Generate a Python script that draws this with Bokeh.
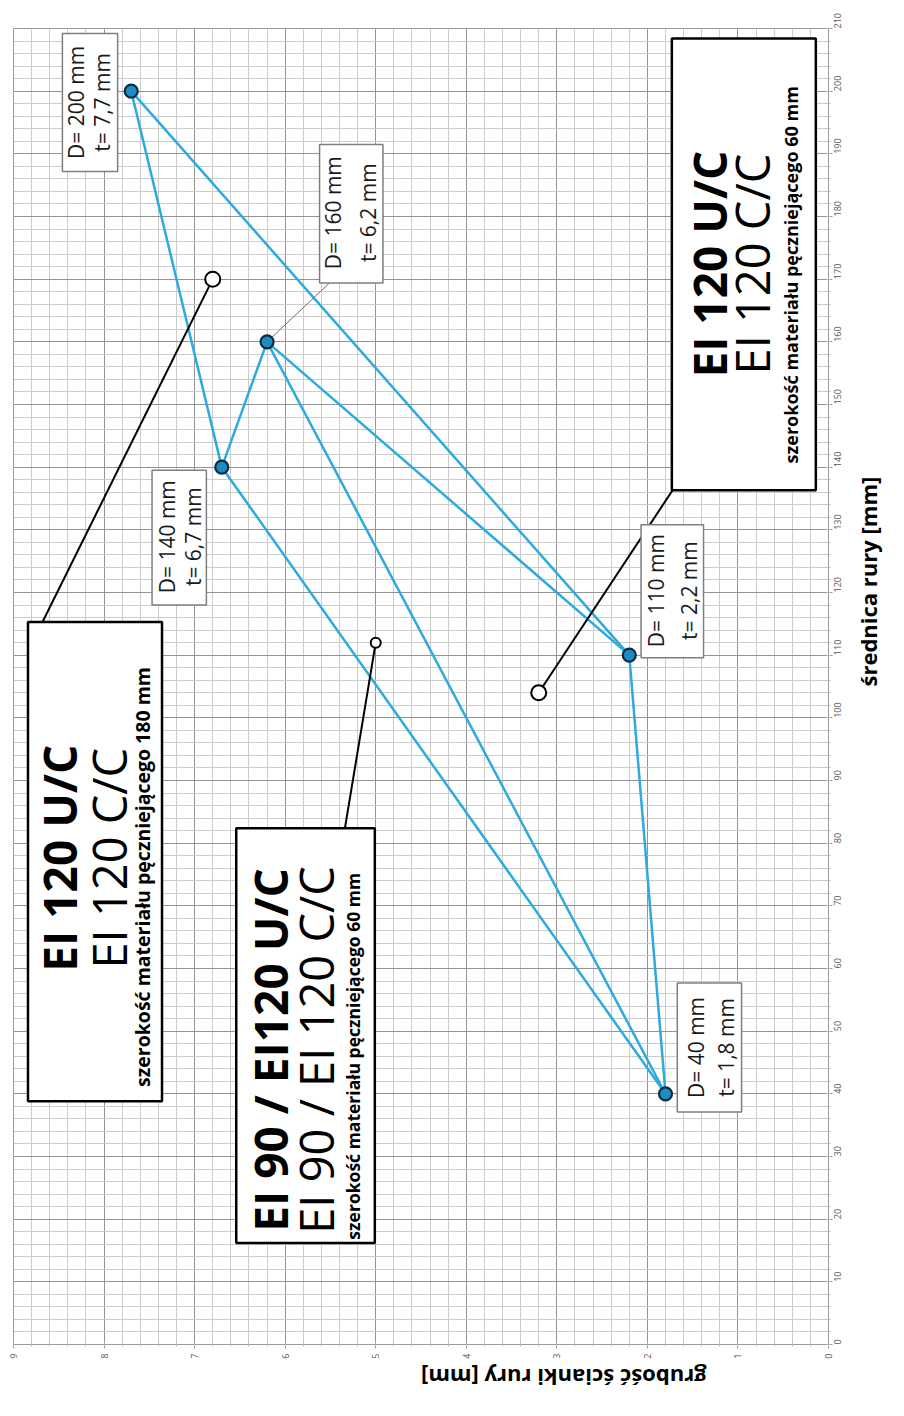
import math
from bokeh.plotting import figure
from bokeh.models import Range1d, SingleIntervalTicker
from bokeh.core.properties import value
from bokeh.embed import file_html
from bokeh.resources import INLINE

# ---------------- data ----------------
diameters = [40, 110, 140, 160, 200]          # D [mm]
thickness = [1.8, 2.2, 6.7, 6.2, 7.7]         # t [mm]
paths = [[40, 110, 200, 140, 40], [40, 160, 110], [140, 160]]   # connections by diameter

callout_anchor_d = [170, 112, 104]
callout_anchor_t = [6.8, 5.0, 3.2]
callout_line1 = ["EI 120 U/C", "EI 90 / EI120 U/C", "EI 120 U/C"]
callout_line2 = ["EI 120 C/C", "EI 90 / EI 120 C/C", "EI 120 C/C"]
callout_line3 = ["szerokość materiału pęczniejącego 180 mm",
                 "szerokość materiału pęczniejącego 60 mm",
                 "szerokość materiału pęczniejącego 60 mm"]

x_label = "grubość ścianki rury [mm]"
y_label = "średnica rury [mm]"

# ---------------- annotation layout (data units) ----------------
# callout boxes: (t_lo, t_hi, d_lo, d_hi)
callout_boxes = [(7.36, 8.84, 38.8, 115.3), (5.01, 6.54, 16.2, 82.4), (0.14, 1.73, 136.3, 208.4)]
callout_line_end = [(8.68, 115.3), (5.34, 82.4), (1.70, 136.8)]
callout_text_t = [(8.50, 7.95, 7.57), (6.17, 5.66, 5.25), (1.32, 0.85, 0.41)]
callout_text_d = [77.6, 47.0, 172.4]
callout_small_d = [74.6, 46.0, 170.7]
callout_small_size = ["19.5px", "17.5px", "18px"]
callout_marker_size = [15, 10, 15]

# point label boxes keyed by diameter
label_boxes = {40: (0.96, 1.67, 37.1, 57.7), 110: (1.38, 2.07, 109.6, 130.8),
               140: (6.87, 7.47, 118.0, 139.5), 160: (4.92, 5.62, 169.4, 191.5),
               200: (7.85, 8.46, 187.2, 209.2)}
label_text_t = {40: (1.46, 1.13), 110: (1.91, 1.54), 140: (7.31, 7.02),
                160: (5.47, 5.09), 200: (8.31, 8.02)}
label_text_d = {40: 47.4, 110: 120.3, 140: 128.9, 160: 180.6, 200: 198.2}
leader_160 = (5.51, 169.4)

FONT = value("Open Sans")
ROT = math.pi / 2

p = figure(width=900, height=1410, x_range=Range1d(9, 0), y_range=Range1d(0, 210),
           y_axis_location="right", output_backend="svg", toolbar_location=None,
           min_border_left=13, min_border_top=28, min_border_right=70, min_border_bottom=62)
p.background_fill_color = "white"
p.outline_line_color = "#9a9a9a"

p.xaxis.ticker = SingleIntervalTicker(interval=1, num_minor_ticks=5)
p.yaxis.ticker = SingleIntervalTicker(interval=10, num_minor_ticks=5)
for ax in (p.xaxis[0], p.yaxis[0]):
    ax.axis_line_color = "#9a9a9a"
    ax.major_tick_line_color = "#9a9a9a"
    ax.minor_tick_line_color = "#b5b5b5"
    ax.major_tick_in = 4
    ax.major_tick_out = 4
    ax.minor_tick_in = 2
    ax.minor_tick_out = 2
    ax.major_label_text_font = "Open Sans"
    ax.major_label_text_font_size = "9px"
    ax.major_label_text_color = "#595959"
    ax.major_label_orientation = ROT
    ax.axis_label_text_font = "Open Sans"
    ax.axis_label_text_font_style = "bold"
    ax.axis_label_text_font_size = "22px"
    ax.axis_label_text_color = "black"

p.xaxis.axis_label = x_label
p.yaxis.axis_label = y_label
p.xaxis.axis_label_orientation = math.pi
p.yaxis.axis_label_orientation = ROT
p.xaxis.axis_label_standoff = 16
p.yaxis.axis_label_standoff = 20

for g in (p.xgrid[0], p.ygrid[0]):
    g.grid_line_color = "#939393"
    g.grid_line_width = 1
    g.minor_grid_line_color = "#cccccc"
    g.minor_grid_line_width = 1

# ---------------- data lines and points ----------------
t_of = dict(zip(diameters, thickness))
p.multi_line(xs=[[t_of[d] for d in path] for path in paths], ys=[list(path) for path in paths],
             line_color="#2eaadf", line_width=2.5)

# leader for the 160 label
p.line(x=[t_of[160], leader_160[0]], y=[160, leader_160[1]], line_color="#6f6f6f", line_width=1)

p.scatter(x=thickness, y=diameters, size=13, fill_color="#1c8cc4", line_color="#0c2d44", line_width=2.2)

# ---------------- callouts ----------------
for i in range(3):
    ex, ey = callout_line_end[i]
    p.line(x=[callout_anchor_t[i], ex], y=[callout_anchor_d[i], ey], line_color="black", line_width=2)
p.scatter(x=callout_anchor_t, y=callout_anchor_d, size=callout_marker_size,
          fill_color="white", line_color="black", line_width=2)

p.quad(left=[b[0] for b in callout_boxes], right=[b[1] for b in callout_boxes],
       bottom=[b[2] for b in callout_boxes], top=[b[3] for b in callout_boxes],
       fill_color="white", line_color="black", line_width=2.5)

p.text(x=[c[0] for c in callout_text_t], y=callout_text_d, text=callout_line1, angle=ROT,
       text_font=FONT, text_font_style="bold", text_font_size="46px",
       text_align="center", text_baseline="middle", text_color="black")
p.text(x=[c[1] for c in callout_text_t], y=callout_text_d, text=callout_line2, angle=ROT,
       text_font=FONT, text_font_style="normal", text_font_size="47px",
       text_align="center", text_baseline="middle", text_color="black")
p.text(x=[c[2] for c in callout_text_t], y=callout_small_d, text=callout_line3, angle=ROT,
       text_font=FONT, text_font_style="bold", text_font_size=callout_small_size,
       text_align="center", text_baseline="middle", text_color="black")

# ---------------- point labels ----------------
p.quad(left=[label_boxes[d][0] for d in diameters], right=[label_boxes[d][1] for d in diameters],
       bottom=[label_boxes[d][2] for d in diameters], top=[label_boxes[d][3] for d in diameters],
       fill_color="white", line_color="#7f7f7f", line_width=1.5)
lx, ly, lt = [], [], []
for d, t in zip(diameters, thickness):
    lx += [label_text_t[d][0], label_text_t[d][1]]
    ly += [label_text_d[d], label_text_d[d]]
    lt += [f"D= {d} mm", "t= " + f"{t:.1f}".replace(".", ",") + " mm"]
p.text(x=lx, y=ly, text=lt, angle=ROT, text_font=FONT, text_font_size="21px",
       text_align="center", text_baseline="middle", text_color="#1a1a1a")

open("out.html", "w").write(file_html(p, INLINE))
